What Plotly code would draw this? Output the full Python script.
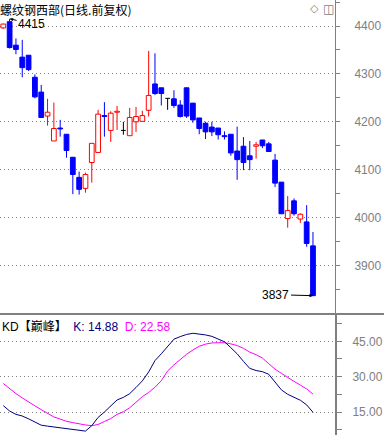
import plotly.graph_objects as go

TITLE = "螺纹钢西部(日线.前复权)"
OPEN = [4396, 4409, 4360, 4335, 4339, 4293, 4262, 4212, 4160, 4187,
        4174, 4126, 4084, 4061, 4115, 4136, 4213, 4182, 4220, 4182,
        4171, 4200, 4201, 4224, 4279, 4271, 4249, 4248, 4235, 4271,
        4239, 4208, 4197, 4189, 4187, 4171, 4174, 4139, 4149, 4129,
        4149, 4162, 4154, 4120, 4074, 3998, 4035, 3997, 3991, 3941]
HIGH = [4405, 4415, 4374, 4371, 4339, 4299, 4277, 4248, 4240, 4204,
        4174, 4126, 4096, 4094, 4155, 4225, 4241, 4222, 4233, 4200,
        4229, 4231, 4223, 4348, 4343, 4271, 4249, 4266, 4245, 4271,
        4239, 4208, 4200, 4200, 4187, 4180, 4174, 4190, 4168, 4160,
        4158, 4162, 4158, 4133, 4074, 4045, 4040, 4009, 4026, 3970]
LOW = [4394, 4353, 4341, 4293, 4306, 4249, 4209, 4192, 4160, 4169,
       4125, 4049, 4048, 4052, 4073, 4136, 4169, 4158, 4183, 4173,
       4171, 4179, 4201, 4211, 4256, 4234, 4225, 4229, 4209, 4208,
       4198, 4174, 4164, 4170, 4163, 4163, 4129, 4079, 4099, 4099,
       4123, 4145, 4138, 4064, 4008, 3979, 4004, 3989, 3939, 3837]
CLOSE = [4404, 4355, 4351, 4313, 4309, 4252, 4209, 4220, 4186, 4185,
         4140, 4090, 4059, 4090, 4155, 4216, 4211, 4218, 4222, 4182,
         4209, 4211, 4213, 4255, 4259, 4259, 4249, 4234, 4211, 4212,
         4204, 4186, 4179, 4179, 4173, 4169, 4135, 4121, 4115, 4121,
         4152, 4150, 4138, 4072, 4008, 4015, 4008, 4007, 3946, 3837]
K_VALS = [17.7, 15.4, 14.0, 13.3, 12.1, 10.7, 9.4, 9.0, 8.6, 8.3,
          7.9, 7.6, 7.3, 6.9, 9.2, 12.7, 15.0, 17.6, 20.1, 21.2,
          22.8, 25.4, 28.2, 32.0, 36.8, 39.7, 42.9, 45.9, 47.0, 47.9,
          48.4, 48.2, 47.7, 47.1, 46.0, 44.8, 42.3, 39.7, 36.5, 33.5,
          32.6, 32.1, 31.0, 27.6, 24.4, 22.5, 21.2, 20.0, 18.0, 14.88]
D_VALS = [27.1, 24.9, 22.8, 21.0, 19.2, 17.6, 16.0, 14.4, 12.9, 12.0,
          11.05, 10.5, 9.9, 9.5, 9.2, 9.7, 11.0, 12.2, 14.0, 15.1,
          16.8, 19.2, 21.5, 23.3, 25.5, 28.3, 32.4, 35.0, 37.4, 39.5,
          41.3, 42.9, 43.8, 44.3, 44.4, 44.4, 43.9, 43.2, 42.0, 40.4,
          39.3, 37.9, 35.5, 33.2, 31.4, 29.6, 28.0, 26.4, 24.8, 22.58]
PRICE_TICKS = [3900, 4000, 4100, 4200, 4300, 4400]
KD_TICKS = [15, 30, 45]

RED = "#FF0000"
BLUE = "#0000FF"
GRAY = "#808080"
NAVY = "#000080"
MAG = "#FF00FF"
W = 384
H = 435
PLOT_W = 335
SPLIT = 314
BW = 0.75

idx = list(range(len(OPEN)))
fig = go.Figure()

up_x, up_y, up_b = [], [], []
dn_x, dn_y, dn_b = [], [], []
wr_x, wr_y, wb_x, wb_y, wk_x, wk_y = [], [], [], [], [], []
for i, o, h, l, c in zip(idx, OPEN, HIGH, LOW, CLOSE):
    if c > o:
        up_x.append(i); up_y.append(c - o); up_b.append(o)
        wr_x += [i, i, None, i, i, None]
        wr_y += [h, c, None, o, l, None]
    elif c < o:
        dn_x.append(i); dn_y.append(o - c); dn_b.append(c)
        wb_x += [i, i, None]
        wb_y += [h, l, None]
    else:
        wk_x += [i, i, None, i - BW / 2, i + BW / 2, None]
        wk_y += [h, l, None, o, o, None]

fig.add_trace(go.Scatter(x=wb_x, y=wb_y, mode="lines", line=dict(color=BLUE, width=1),
                         hoverinfo="skip", xaxis="x", yaxis="y"))
fig.add_trace(go.Bar(x=up_x, y=up_y, base=up_b, width=BW,
                     marker=dict(color="white", line=dict(color=RED, width=1)),
                     xaxis="x", yaxis="y"))
fig.add_trace(go.Bar(x=dn_x, y=dn_y, base=dn_b, width=BW,
                     marker=dict(color=BLUE, line=dict(color=BLUE, width=1)),
                     xaxis="x", yaxis="y"))
for xs, ys, col in [(wr_x, wr_y, RED), (wk_x, wk_y, "black")]:
    fig.add_trace(go.Scatter(x=xs, y=ys, mode="lines", line=dict(color=col, width=1),
                             hoverinfo="skip", xaxis="x", yaxis="y"))

fig.add_trace(go.Scatter(x=idx, y=D_VALS, mode="lines", line=dict(color=MAG, width=1),
                         xaxis="x2", yaxis="y2"))
fig.add_trace(go.Scatter(x=idx, y=K_VALS, mode="lines", line=dict(color=NAVY, width=1),
                         xaxis="x2", yaxis="y2"))

step = 6.32
x0pix = 3.3
xr = [-x0pix / step, (PLOT_W - x0pix) / step]
ppu = 47.9 / 100.0
p_top = 4400 + 26 / ppu
p_bot = 4400 - (SPLIT - 26) / ppu
kppu = 2.357
k_top = 45 + (341.3 - SPLIT) / kppu
k_bot = 15 - (H - 412) / kppu
dom_split = (H - SPLIT) / H

tickfont = dict(family="Liberation Sans, Arial", size=12, color=GRAY)
fig.update_layout(
    width=W, height=H, margin=dict(l=0, r=W - PLOT_W, t=0, b=0),
    paper_bgcolor="white", plot_bgcolor="white", showlegend=False,
    barmode="overlay", hovermode=False,
    xaxis=dict(domain=[0, 1], range=xr, showticklabels=False, showgrid=False,
               zeroline=False, showline=False, ticks="", anchor="y"),
    yaxis=dict(domain=[dom_split, 1], range=[p_bot, p_top], side="right",
               tickvals=PRICE_TICKS, ticks="outside", ticklen=4, tickcolor=GRAY,
               minor=dict(dtick=50, tick0=0, ticks="outside", ticklen=4, tickcolor=GRAY),
               showgrid=True, gridcolor=GRAY, griddash="1px,3px", gridwidth=1,
               zeroline=False, showline=True, linecolor=GRAY, linewidth=1,
               tickfont=tickfont, ticklabelstandoff=12, anchor="x"),
    xaxis2=dict(domain=[0, 1], range=xr, showticklabels=False, showgrid=False,
                zeroline=False, showline=False, ticks="", anchor="y2"),
    yaxis2=dict(domain=[0, dom_split], range=[k_bot, k_top], side="right",
                tickvals=KD_TICKS, ticktext=[f"{v:.2f}" for v in KD_TICKS],
                ticks="outside", ticklen=5, tickcolor=GRAY,
                minor=dict(dtick=7.5, tick0=0, ticks="outside", ticklen=5, tickcolor=GRAY),
                showgrid=True, gridcolor=GRAY, griddash="1px,3px", gridwidth=1,
                zeroline=False, showline=True, linecolor=GRAY, linewidth=2,
                tickfont=tickfont, ticklabelstandoff=8, anchor="x2"),
)

# panel separator
fig.add_shape(type="line", xref="paper", yref="paper", x0=0, x1=W / PLOT_W,
              y0=dom_split, y1=dom_split, line=dict(color=GRAY, width=2))

# title
fig.add_annotation(xref="paper", yref="paper", x=0, y=1, xanchor="left", yanchor="top",
                   text=TITLE, showarrow=False, yshift=1, xshift=-2,
                   font=dict(family="Noto Sans CJK SC", size=12, color="black"))
# icons
fig.add_annotation(xref="paper", yref="paper", x=314 / PLOT_W, y=1, xanchor="center", yanchor="top",
                   text="◇", showarrow=False, font=dict(family="DejaVu Sans", size=11, color=GRAY))
fig.add_annotation(xref="paper", yref="paper", x=328 / PLOT_W, y=1, xanchor="center", yanchor="top",
                   text="◫", showarrow=False, font=dict(family="DejaVu Sans", size=12, color=GRAY))

# max / min labels
imax = max(idx, key=lambda i: HIGH[i])
imin = min(idx, key=lambda i: LOW[i])
fig.add_annotation(x=imax, y=HIGH[imax], xref="x", yref="y", text=f"{HIGH[imax]}",
                   showarrow=True, ax=22, ay=5, axref="pixel", ayref="pixel",
                   arrowhead=2, arrowsize=0.7, arrowwidth=1, arrowcolor="black",
                   font=dict(family="Liberation Sans, Arial", size=12, color="black"))
fig.add_annotation(x=imin, y=LOW[imin], xref="x", yref="y", text=f"{LOW[imin]}",
                   showarrow=True, ax=-37, ay=-1, axref="pixel", ayref="pixel",
                   arrowhead=2, arrowsize=0.7, arrowwidth=1, arrowcolor="black",
                   font=dict(family="Liberation Sans, Arial", size=12, color="black"))

# KD legend
legend = (f"KD<span style='font-family:Noto Sans CJK SC'>【巅峰】</span>  "
          f"<span style='color:{NAVY}'>K: {K_VALS[-1]:.2f}</span>  "
          f"<span style='color:{MAG}'>D: {D_VALS[-1]:.2f}</span>")
fig.add_annotation(xref="paper", yref="paper", x=0, y=dom_split, xanchor="left", yanchor="top",
                   text=legend, showarrow=False, yshift=-1,
                   font=dict(family="Liberation Sans, Arial", size=12, color="black"))

fig.write_html("out.html", config={"displayModeBar": False},
               post_script="document.body.style.margin='0';")
